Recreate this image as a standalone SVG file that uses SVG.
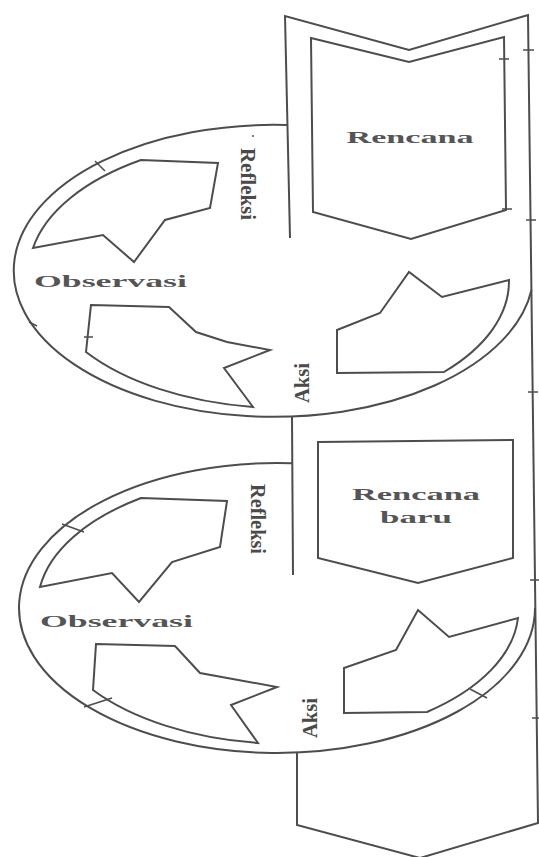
<svg xmlns="http://www.w3.org/2000/svg" width="539" height="857" viewBox="0 0 539 857">
<style>
.ln{fill:none;stroke:#4d4d4d;stroke-width:2;stroke-linejoin:miter}
.sh{fill:#fff;stroke:#4d4d4d;stroke-width:2}
.tk{stroke:#4d4d4d;stroke-width:1.5}
.bt{font-family:"Liberation Serif",serif;font-weight:bold;font-size:17px;fill:#555}
.vt{font-family:"Liberation Serif",serif;font-weight:bold;font-size:22px;fill:#4a4a4a}
</style>
<rect width="539" height="857" fill="#fff"/>
<g id="frame">
<path class="ln" d="M290 238 L285 16 L409 50 L528 15 L538 823 L420 858 L297 825 L297 753"/>
<path class="ln" d="M292 417 L293 575"/>
</g>
<g id="cycle1">
<path class="ln" d="M287 125 A260 146 0 1 0 531.5 290"/>
</g>
<g id="cycle2">
<path class="ln" d="M292 463.2 A258 145 0 1 0 535 608"/>
</g>
<g id="rencana">
<path class="sh" d="M311 38 L409 62 L504 37 L506 210 L411 239 L313 212 Z"/>
<text class="bt" x="410" y="143" text-anchor="middle" textLength="127" lengthAdjust="spacingAndGlyphs">Rencana</text>
</g>
<g id="rencana-baru">
<path class="sh" d="M318 442 L513 440 L513 558 L418 583 L318 558 Z"/>
<text class="bt" x="416" y="500" text-anchor="middle" textLength="128" lengthAdjust="spacingAndGlyphs">Rencana</text>
<text class="bt" x="416" y="523" text-anchor="middle" textLength="72" lengthAdjust="spacingAndGlyphs">baru</text>
</g>
<g id="connectors">
<path id="refleksi-observasi-1" class="sh" d="M141 160 L218 163 L210 208 L165 220 L134 262 L103 235 L33 248 A246 134 0 0 1 141 160 Z"/>
<path id="observasi-aksi-1" class="sh" d="M91 305 L169 307 L196 332 L227 342 L270 350 L224 368 L253 407 A246 134 0 0 1 86 352 Z"/>
<path id="aksi-rencana-1" class="sh" d="M337 373 L337 330 L380 313 L409 272 L442 297 L509 280 A246 134 0 0 1 444 372 Z"/>
<path id="refleksi-observasi-2" class="sh" d="M141 498 L227 501 L220 547 L172 562 L139 602 L112 573 L40 587 A244 131 0 0 1 141 498 Z"/>
<path id="observasi-aksi-2" class="sh" d="M96 644 L175 646 L200 673 L277 687 L231 705 L258 743 A244 131 0 0 1 93 690 Z"/>
<path id="aksi-rencana-2" class="sh" d="M344 713 L344 668 L396 650 L418 610 L449 637 L518 618 A244 131 0 0 1 427 712 Z"/>
</g>
<g id="labels1">
<text class="vt" transform="translate(248,184) rotate(90)" x="0" y="7" text-anchor="middle" textLength="72" lengthAdjust="spacingAndGlyphs">Refleksi</text>
<text class="bt" x="34" y="287" textLength="153" lengthAdjust="spacingAndGlyphs">Observasi</text>
<text class="vt" transform="translate(302,383) rotate(-90)" x="0" y="7" text-anchor="middle" textLength="40" lengthAdjust="spacingAndGlyphs">Aksi</text>
<circle cx="253" cy="136" r="1" fill="#555"/>
</g>
<g id="labels2">
<text class="vt" transform="translate(258,519) rotate(90)" x="0" y="7" text-anchor="middle" textLength="70" lengthAdjust="spacingAndGlyphs">Refleksi</text>
<text class="bt" x="40" y="627" textLength="153" lengthAdjust="spacingAndGlyphs">Observasi</text>
<text class="vt" transform="translate(310,718) rotate(-90)" x="0" y="7" text-anchor="middle" textLength="40" lengthAdjust="spacingAndGlyphs">Aksi</text>
</g>
<g id="ticks">
<line class="tk" x1="523" y1="50" x2="534" y2="50"/>
<line class="tk" x1="499" y1="59" x2="509" y2="59"/>
<line class="tk" x1="502" y1="209" x2="512" y2="209"/>
<line class="tk" x1="526" y1="220" x2="536" y2="220"/>
<line class="tk" x1="528" y1="392" x2="538" y2="392"/>
<line class="tk" x1="530" y1="580" x2="540" y2="580"/>
<line class="tk" x1="532" y1="718" x2="542" y2="718"/>
<line class="tk" x1="95" y1="161" x2="105" y2="171"/>
<line class="tk" x1="29" y1="322" x2="37" y2="326"/>
<line class="tk" x1="84" y1="337" x2="93" y2="337"/>
<line class="tk" x1="62" y1="524" x2="84" y2="532"/>
<line class="tk" x1="84" y1="707" x2="112" y2="698"/>
<line class="tk" x1="470" y1="689" x2="487" y2="698"/>
</g>
</svg>
